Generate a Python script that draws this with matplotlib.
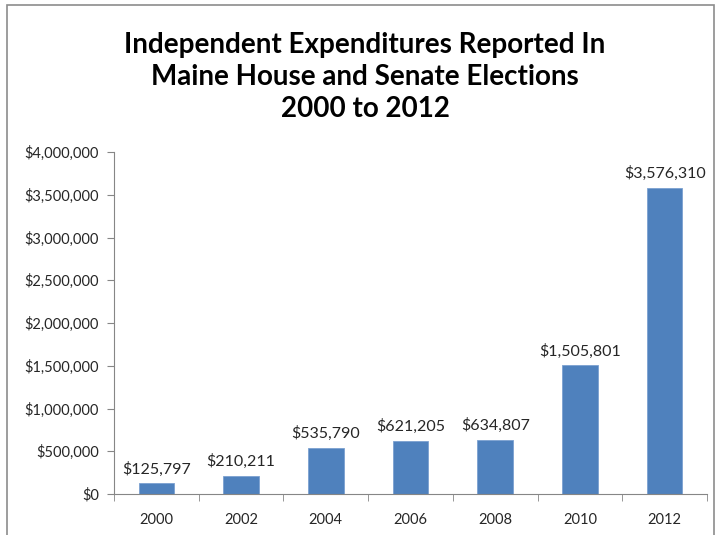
import matplotlib.pyplot as plt
import numpy as np
from matplotlib.patches import Rectangle
from matplotlib.ticker import FuncFormatter

years = ["2000", "2002", "2004", "2006", "2008", "2010", "2012"]
spending = [125797, 210211, 535790, 621205, 634807, 1505801, 3576310]
yticks = [0, 500000, 1000000, 1500000, 2000000, 2500000, 3000000, 3500000, 4000000]

plt.rcParams['font.family'] = ['Lato', 'DejaVu Sans']

fig = plt.figure(figsize=(7.18, 5.35), dpi=100)
ax = fig.add_axes([114/718, 1 - 494/535, (707 - 114)/718, (494 - 152)/535])

x = np.arange(len(years))
ax.bar(x, spending, width=0.42, color="#4F81BD", edgecolor="#7BA1D1", linewidth=0.6)

for xi, v in zip(x, spending):
    ax.text(xi, v + 80000, "${:,}".format(v), ha="center", va="bottom",
            fontsize=11.5, color="#262626")

ax.set_xlim(-0.5, len(years) - 0.5)
ax.set_ylim(0, 4000000)
ax.set_yticks(yticks)
ax.yaxis.set_major_formatter(FuncFormatter(lambda v, p: "${:,.0f}".format(v)))
ax.set_xticks(x)
ax.set_xticklabels(years)
ax.set_xticks(np.arange(len(years) + 1) - 0.5, minor=True)
ax.tick_params(axis="x", which="major", length=0, pad=14, labelsize=10.5, colors="#262626")
ax.tick_params(axis="x", which="minor", length=5, direction="out", color="#868686")
ax.tick_params(axis="y", length=5, direction="out", color="#868686", labelsize=10.5,
               labelcolor="#262626", pad=6)

for s in ["top", "right"]:
    ax.spines[s].set_visible(False)
for s in ["left", "bottom"]:
    ax.spines[s].set_color("#868686")

fig.text(365/718, 1 - 77/535,
         "Independent Expenditures Reported In\nMaine House and Senate Elections\n2000 to 2012",
         ha="center", va="center", fontsize=20, fontweight="bold", linespacing=1.27)

# outer chart border
fig.patches.append(Rectangle((7/718, -0.01), (714 - 7)/718, 1 - 5/535 + 0.01,
                             transform=fig.transFigure, fill=False,
                             edgecolor="#8c8c8c", linewidth=1.2))

plt.savefig("out.png", dpi=100)
